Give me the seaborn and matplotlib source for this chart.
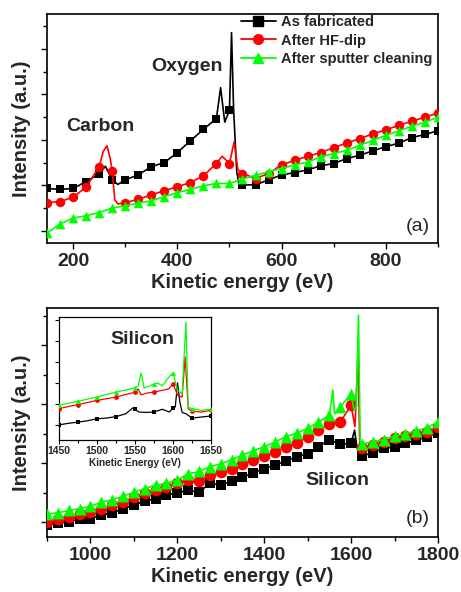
import matplotlib
matplotlib.use("Agg")
import matplotlib.pyplot as plt
from matplotlib.lines import Line2D
from matplotlib.ticker import MultipleLocator, NullFormatter
import numpy as np
import pandas as pd
import seaborn as sns

SERIES = ["As fabricated", "After HF-dip", "After sputter cleaning"]
COLORS = ["#000000", "#ff0000", "#00ff00"]
MARKERS = ["s", "o", "^"]

# ---- panel (a): 150-900 eV ----
A_E_FAB = [150, 175, 200, 225, 250, 262, 275, 286, 300, 325, 350, 375, 400, 425, 450, 475,
           483, 491, 500, 504, 508, 514, 518, 525, 550, 575, 600, 625, 650, 675, 700, 725,
           750, 775, 800, 825, 850, 875, 900]
A_I_FAB = [0.93, 0.91, 0.93, 1.08, 1.25, 1.42, 1.12, 1.02, 1.12, 1.23, 1.41, 1.50, 1.72, 1.98,
           2.23, 2.47, 3.15, 2.39, 2.65, 4.36, 2.65, 1.30, 1.04, 1.01, 1.01, 1.12, 1.23, 1.28,
           1.34, 1.43, 1.48, 1.59, 1.66, 1.76, 1.85, 1.93, 2.05, 2.12, 2.20]

A_E_HF = [150, 175, 200, 225, 250, 258, 265, 271, 275, 280, 286, 300, 325, 350, 375, 400, 425,
          450, 475, 486, 500, 509, 516, 525, 550, 575, 600, 625, 650, 675, 700, 725, 750, 775,
          800, 825, 850, 875, 900]
A_I_HF = [0.62, 0.64, 0.74, 0.96, 1.41, 1.75, 1.87, 1.60, 1.32, 0.68, 0.59, 0.62, 0.69, 0.79,
          0.88, 0.97, 1.06, 1.21, 1.48, 1.64, 1.48, 1.96, 1.35, 1.26, 1.15, 1.26, 1.45, 1.55,
          1.64, 1.72, 1.83, 1.93, 2.03, 2.13, 2.22, 2.32, 2.41, 2.50, 2.59]

A_E_SP = [150, 175, 200, 225, 250, 275, 300, 325, 350, 375, 400, 425, 450, 475, 500, 525, 550,
          575, 600, 625, 650, 675, 700, 725, 750, 775, 800, 825, 850, 875, 900]
A_I_SP = [-0.05, 0.15, 0.28, 0.33, 0.40, 0.50, 0.55, 0.61, 0.66, 0.75, 0.84, 0.91, 0.99, 1.04,
          1.04, 1.14, 1.22, 1.30, 1.37, 1.45, 1.51, 1.63, 1.70, 1.77, 1.88, 1.99, 2.10, 2.20,
          2.30, 2.39, 2.50]

# ---- panel (b): 900-1800 eV ----
B_E_FAB = [900, 925, 950, 975, 1000, 1025, 1050, 1075, 1100, 1125, 1150, 1175, 1200, 1225,
           1250, 1275, 1300, 1325, 1350, 1375, 1400, 1425, 1450, 1475, 1500, 1525, 1550, 1575,
           1600, 1608, 1613, 1619, 1625, 1650, 1675, 1700, 1725, 1750, 1775, 1800]
B_I_FAB = [-0.05, -0.02, 0.01, 0.05, 0.06, 0.12, 0.16, 0.23, 0.29, 0.36, 0.40, 0.46, 0.50,
           0.54, 0.51, 0.66, 0.63, 0.70, 0.76, 0.84, 0.91, 0.97, 1.04, 1.11, 1.16, 1.28, 1.40,
           1.32, 1.34, 1.56, 1.30, 1.12, 1.12, 1.18, 1.25, 1.28, 1.34, 1.39, 1.45, 1.51]

B_E_HF = [900, 925, 950, 975, 1000, 1025, 1050, 1075, 1100, 1125, 1150, 1175, 1200, 1225,
          1250, 1275, 1300, 1325, 1350, 1375, 1400, 1425, 1450, 1475, 1500, 1525, 1550, 1575,
          1600, 1609, 1616, 1620, 1625, 1650, 1675, 1700, 1725, 1750, 1775, 1800]
B_I_HF = [0.01, 0.05, 0.09, 0.14, 0.18, 0.23, 0.29, 0.34, 0.42, 0.49, 0.54, 0.60, 0.67, 0.71,
          0.70, 0.80, 0.85, 0.91, 0.98, 1.05, 1.12, 1.19, 1.28, 1.34, 1.45, 1.56, 1.67, 1.70,
          1.98, 1.62, 2.90, 1.25, 1.25, 1.31, 1.36, 1.42, 1.46, 1.50, 1.53, 1.62]

B_E_SP = [900, 925, 950, 975, 1000, 1025, 1050, 1075, 1100, 1125, 1150, 1175, 1200, 1225,
          1250, 1275, 1300, 1325, 1350, 1375, 1400, 1425, 1450, 1475, 1500, 1525, 1550, 1558,
          1562, 1575, 1600, 1607, 1612, 1617, 1621, 1625, 1650, 1675, 1700, 1725, 1750, 1775,
          1800]
B_I_SP = [0.14, 0.16, 0.20, 0.23, 0.27, 0.34, 0.38, 0.44, 0.51, 0.57, 0.63, 0.66, 0.72, 0.82,
          0.86, 0.94, 0.99, 1.06, 1.14, 1.21, 1.28, 1.36, 1.45, 1.51, 1.59, 1.70, 1.81, 2.24,
          1.84, 1.95, 2.18, 1.90, 1.95, 3.51, 1.36, 1.33, 1.36, 1.40, 1.46, 1.50, 1.55, 1.60,
          1.70]

# ---- inset: Si region 1450-1650 eV ----
C_E_FAB = [1450, 1462, 1475, 1487, 1500, 1512, 1525, 1538, 1547, 1550, 1555, 1565, 1575, 1586,
           1595, 1600, 1603, 1606, 1609, 1612, 1617, 1625, 1637, 1650]
C_I_FAB = [0.01, 0.08, 0.14, 0.20, 0.30, 0.33, 0.40, 0.54, 0.81, 0.75, 0.62, 0.60, 0.62, 0.75,
           0.62, 0.80, 0.86, 2.00, 1.10, 0.60, 0.54, 0.33, 0.38, 0.43]

C_E_HF = [1450, 1462, 1475, 1487, 1500, 1512, 1525, 1542, 1550, 1554, 1558, 1566, 1575, 1586,
          1595, 1600, 1606, 1612, 1616, 1620, 1625, 1637, 1650]
C_I_HF = [0.78, 0.88, 0.97, 1.07, 1.17, 1.25, 1.33, 1.49, 1.55, 1.72, 1.44, 1.52, 1.57, 1.65,
          1.73, 1.97, 1.41, 1.33, 3.24, 0.78, 0.66, 0.62, 0.70]

C_E_SP = [1450, 1462, 1475, 1487, 1500, 1512, 1525, 1542, 1550, 1554, 1558, 1562, 1575, 1580,
          1586, 1593, 1600, 1606, 1612, 1617, 1620, 1625, 1637, 1650]
C_I_SP = [0.94, 1.03, 1.13, 1.23, 1.33, 1.45, 1.57, 1.70, 1.78, 1.85, 2.48, 1.76, 1.95, 2.00,
          1.86, 2.21, 2.48, 1.65, 1.49, 4.90, 0.85, 0.78, 0.70, 0.75]


def frame(energy, intensity):
    df = pd.DataFrame({"energy": energy, "intensity": intensity})
    # symbols sit on the 25 eV acquisition grid, peaks in between are line only
    df["marked"] = np.isclose(df["energy"] % 25, 0)
    return df


def draw(ax, traces, sizes, lw):
    for k, ((e, i), color, marker, s) in enumerate(zip(traces, COLORS, MARKERS, sizes)):
        df = frame(e, i)
        sns.lineplot(data=df, x="energy", y="intensity", color=color, lw=lw,
                     estimator=None, sort=False, legend=False, ax=ax, zorder=2 + 2 * k)
        sns.scatterplot(data=df[df["marked"]], x="energy", y="intensity", color=color,
                        marker=marker, s=s, linewidth=0, legend=False, ax=ax, zorder=3 + 2 * k)
    ax.set_xlabel("")
    ax.set_ylabel("")


def style_axes(ax, big=True):
    for sp in ax.spines.values():
        sp.set_visible(True)
        sp.set_linewidth(1.2 if big else 0.9)
        sp.set_color("black")
    ax.tick_params(axis="both", which="both", direction="out", top=False, right=False,
                   left=True, bottom=True, color="black")
    ax.tick_params(which="major", length=4.5 if big else 3, width=1.0 if big else 0.8)
    ax.tick_params(which="minor", length=3 if big else 2, width=1.0 if big else 0.8)
    ax.yaxis.set_major_formatter(NullFormatter())


sns.set_theme(style="white")
plt.rcParams["font.family"] = ["Liberation Sans", "DejaVu Sans"]
plt.rcParams["font.weight"] = "bold"

fig = plt.figure(figsize=(4.61, 5.92), dpi=100)
ax_a = fig.add_axes([0.102, 0.5895, 0.848, 0.3868])
ax_b = fig.add_axes([0.102, 0.0929, 0.848, 0.3868])
ax_c = fig.add_axes([0.128, 0.2568, 0.3297, 0.2078])

# panel (a)
draw(ax_a, [(A_E_FAB, A_I_FAB), (A_E_HF, A_I_HF), (A_E_SP, A_I_SP)], [36, 46, 48], 1.2)
ax_a.set_xlim(150, 900)
ax_a.set_ylim(-0.27, 4.77)
ax_a.xaxis.set_major_locator(MultipleLocator(200))
ax_a.xaxis.set_minor_locator(MultipleLocator(100))
ax_a.yaxis.set_major_locator(MultipleLocator(1))
ax_a.yaxis.set_minor_locator(MultipleLocator(0.5))
style_axes(ax_a)
ax_a.tick_params(axis="x", labelsize=14, pad=3)
ax_a.set_xlabel("Kinetic energy (eV)", fontsize=14.5, fontweight="bold", labelpad=2)
ax_a.set_ylabel("Intensity (a.u.)", fontsize=14.5, fontweight="bold")
ax_a.yaxis.set_label_coords(-0.04, 0.5)
ax_a.text(0.136, 0.507, "Carbon", transform=ax_a.transAxes, fontsize=14,
          fontweight="bold", ha="center", va="center")
ax_a.text(0.358, 0.769, "Oxygen", transform=ax_a.transAxes, fontsize=14,
          fontweight="bold", ha="center", va="center")
ax_a.text(0.949, 0.07, "(a)", transform=ax_a.transAxes, fontsize=14,
          fontweight="normal", ha="center", va="center")

handles = [Line2D([], [], color=c, marker=m, markersize=7, lw=1.3)
           for c, m in zip(COLORS, MARKERS)]
ax_a.legend(handles, SERIES, loc="upper left", bbox_to_anchor=(0.495, 0.995),
            frameon=False, handlelength=2.4, handletextpad=0.35,
            labelspacing=0.3, borderpad=0.0, borderaxespad=0.0,
            prop={"weight": "bold", "size": 10.5})

# panel (b)
draw(ax_b, [(B_E_FAB, B_I_FAB), (B_E_HF, B_I_HF), (B_E_SP, B_I_SP)], [58, 70, 74], 1.2)
ax_b.set_xlim(900, 1800)
ax_b.set_ylim(-0.25, 3.63)
ax_b.xaxis.set_major_locator(MultipleLocator(200))
ax_b.xaxis.set_minor_locator(MultipleLocator(100))
ax_b.yaxis.set_major_locator(MultipleLocator(1))
ax_b.yaxis.set_minor_locator(MultipleLocator(0.5))
style_axes(ax_b)
ax_b.tick_params(axis="x", labelsize=14, pad=3)
ax_b.set_xlabel("Kinetic energy (eV)", fontsize=14.5, fontweight="bold", labelpad=2)
ax_b.set_ylabel("Intensity (a.u.)", fontsize=14.5, fontweight="bold")
ax_b.yaxis.set_label_coords(-0.04, 0.5)
ax_b.text(0.744, 0.245, "Silicon", transform=ax_b.transAxes, fontsize=14,
          fontweight="bold", ha="center", va="center")
ax_b.text(0.949, 0.079, "(b)", transform=ax_b.transAxes, fontsize=14,
          fontweight="normal", ha="center", va="center")

# inset
draw(ax_c, [(C_E_FAB, C_I_FAB), (C_E_HF, C_I_HF), (C_E_SP, C_I_SP)], [11, 12, 13], 0.9)
ax_c.set_xlim(1450, 1650)
ax_c.set_ylim(-0.71, 5.14)
ax_c.xaxis.set_major_locator(MultipleLocator(50))
ax_c.xaxis.set_minor_locator(MultipleLocator(25))
ax_c.yaxis.set_major_locator(MultipleLocator(1))
style_axes(ax_c, big=False)
ax_c.tick_params(axis="x", labelsize=7.5, pad=1.5)
ax_c.set_xlabel("Kinetic Energy (eV)", fontsize=7.2, fontweight="bold", labelpad=1)
ax_c.text(0.546, 0.82, "Silicon", transform=ax_c.transAxes, fontsize=14,
          fontweight="bold", ha="center", va="center")

fig.savefig("out.png", dpi=100)
